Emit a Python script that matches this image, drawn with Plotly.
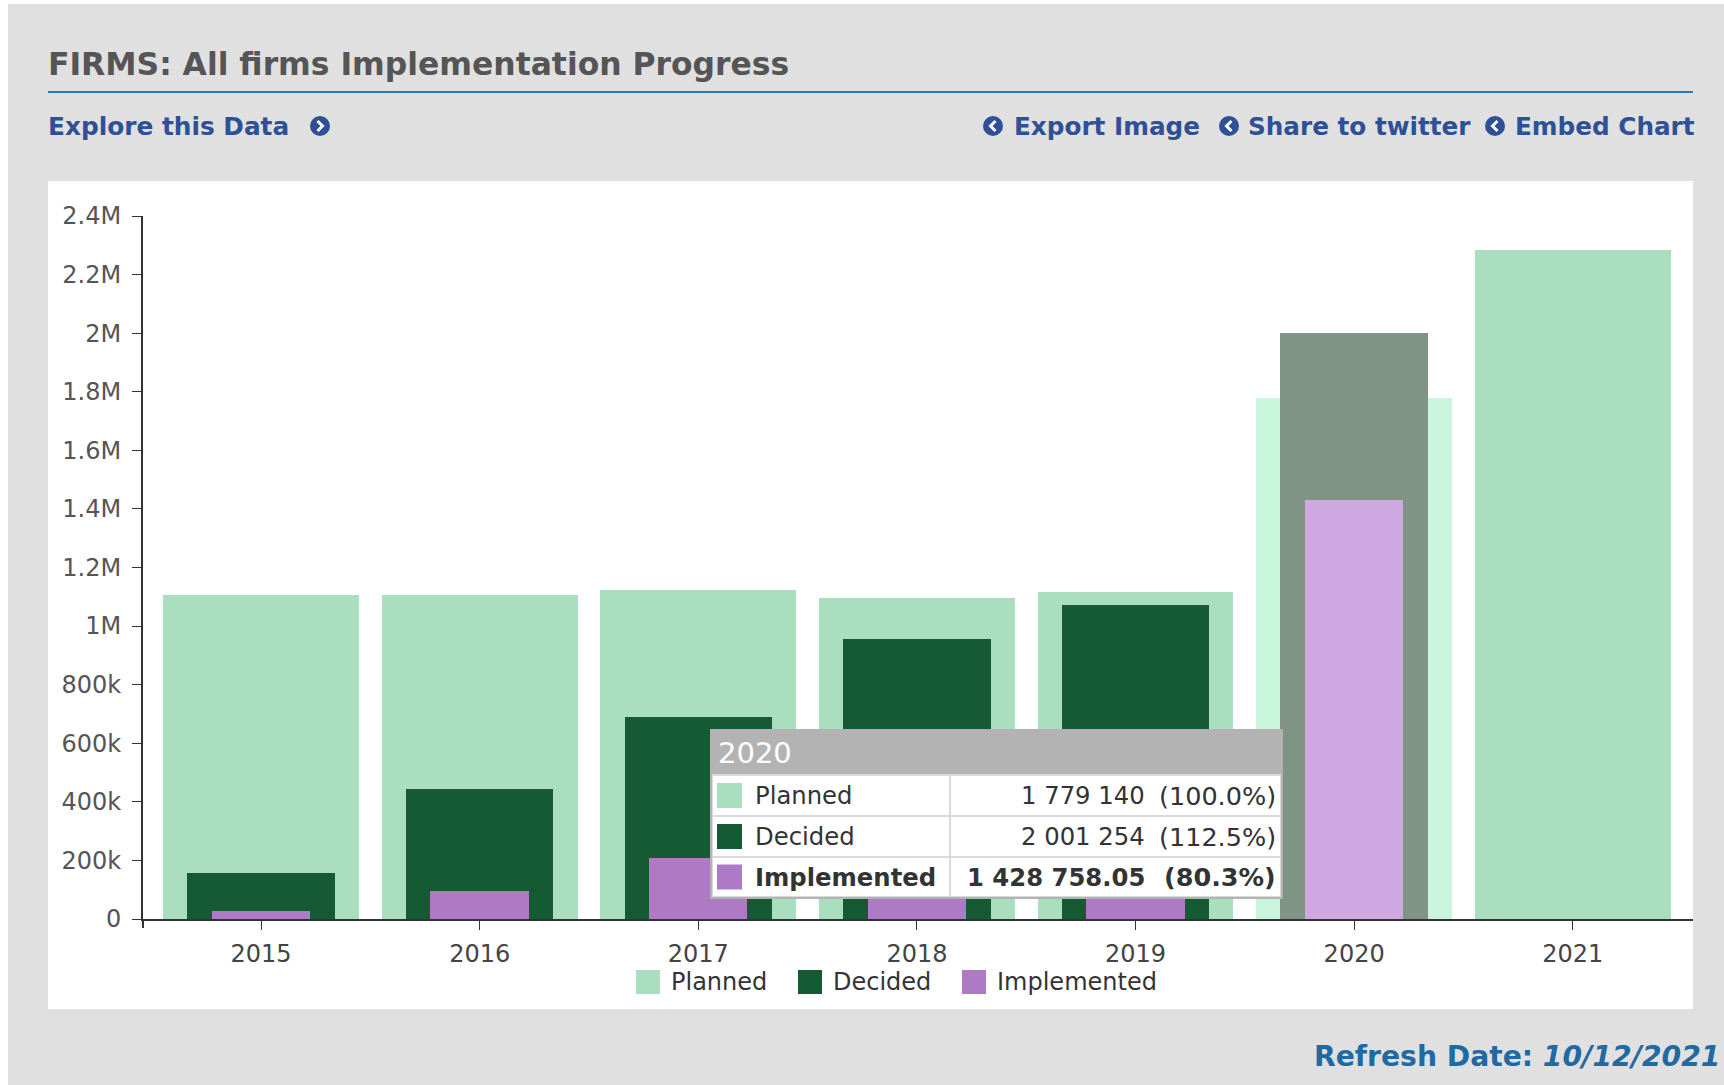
import plotly.graph_objects as go

# data
years = ["2015", "2016", "2017", "2018", "2019", "2020", "2021"]
planned = [1107000, 1106000, 1123000, 1095000, 1117000, 1779140, 2284000]
decided = [157000, 445000, 688000, 956000, 1072000, 2001254, None]
implemented = [26000, 94000, 207000, 400000, 560000, 1428758.05, None]

series_names = ["Planned", "Decided", "Implemented"]
hover_year = "2020"

# colours
col_bg = "#e0e0e0"
col_planned = "#a9dfbf"
col_decided = "#165a34"
col_impl = "#ae7ac6"
hi_planned = "#c9f5dd"
hi_decided = "#7f9484"
hi_impl = "#cfa8e2"
col_link = "#2e5096"
FONT = "DejaVu Sans"

W, H = 1724, 1085
PL, PR, PT, PB = 143, 1693, 216, 919  # plot area in pixels


def px(x):
    return (x - PL) / (PR - PL)


def py(y):
    return (PB - y) / (PB - PT)


def rect(x0, y0, x1, y1, fill, layer="above"):
    return dict(type="rect", xref="paper", yref="paper",
                x0=px(x0), x1=px(x1), y0=py(y1), y1=py(y0),
                fillcolor=fill, line=dict(width=0), layer=layer)


def text(x, y, s, size=24, color="#333333", anchor="left", bold=False):
    if bold:
        s = "<b>" + s + "</b>"
    return dict(xref="paper", yref="paper", x=px(x), y=py(y), text=s,
                showarrow=False, xanchor=anchor, yanchor="middle",
                font=dict(family=FONT, size=size, color=color))


def icon(cx, cy, direction):
    r = 10
    circ = dict(type="circle", xref="paper", yref="paper",
                x0=px(cx - r), x1=px(cx + r), y0=py(cy + r), y1=py(cy - r),
                fillcolor=col_link, line=dict(width=0), layer="above")
    d = 1 if direction == "right" else -1
    p = "M{},{} L{},{} L{},{}".format(px(cx - 2.5 * d), py(cy - 5), px(cx + 2.5 * d), py(cy),
                                       px(cx - 2.5 * d), py(cy + 5))
    chev = dict(type="path", xref="paper", yref="paper", path=p,
                line=dict(color="white", width=3), layer="above")
    return [circ, chev]


def colors(base, hi):
    return [hi if y == hover_year else base for y in years]


fig = go.Figure()
fig.add_trace(go.Bar(x=years, y=planned, name="Planned", width=0.895,
                     marker=dict(color=colors(col_planned, hi_planned), line=dict(width=0))))
fig.add_trace(go.Bar(x=years, y=decided, name="Decided", width=0.675,
                     marker=dict(color=colors(col_decided, hi_decided), line=dict(width=0))))
fig.add_trace(go.Bar(x=years, y=implemented, name="Implemented", width=0.45,
                     marker=dict(color=colors(col_impl, hi_impl), line=dict(width=0))))

shapes = []
ann = []

# page frame
shapes.append(rect(0, 0, 8, H, "white", layer="below"))
shapes.append(rect(0, 0, W, 4, "white", layer="below"))
shapes.append(rect(48, 181, 1693, 1009, "white", layer="below"))
shapes.append(dict(type="line", xref="paper", yref="paper", x0=px(48), x1=px(1693),
                   y0=py(92), y1=py(92), line=dict(color="#2b7bb9", width=2)))
# outer tick at start of x axis
shapes.append(dict(type="line", xref="paper", yref="paper", x0=px(143), x1=px(143),
                   y0=py(919), y1=py(928), line=dict(color="#333333", width=2)))

# header texts
ann.append(text(46, 64, "FIRMS: All firms Implementation Progress", size=31.4,
                color="#555555", bold=True))
ann.append(text(46, 127, "Explore this Data", size=24.8, color=col_link, bold=True))
shapes += icon(320, 126, "right")
for cx, tx, s in [(993, 1012, "Export Image"), (1229, 1246, "Share to twitter"),
                  (1495, 1513, "Embed Chart")]:
    shapes += icon(cx, 126, "left")
    ann.append(text(tx, 127, s, size=24.7, color=col_link, bold=True))
ann.append(text(1722, 1056, "Refresh Date: <i>10/12/2021</i>", size=28.2,
                color="#1f69a5", anchor="right", bold=True))

# legend drawn below the axis
for sx, tx, nm, c in [(636, 669, "Planned", col_planned), (798, 831, "Decided", col_decided),
                      (962, 995, "Implemented", col_impl)]:
    shapes.append(rect(sx, 970, sx + 24, 994, c))
    ann.append(text(tx, 982, nm, size=24, color="#333333"))

# hover tooltip for 2020
i = years.index(hover_year)
vals = [planned[i], decided[i], implemented[i]]
swatch = [col_planned, col_decided, col_impl]
shapes.append(rect(710, 729, 1283, 899, "#b3b3b3"))
shapes.append(rect(712, 774, 1281, 897, "#dadada"))
rows = [(776, 815), (817, 856), (858, 896)]
for k, (r0, r1) in enumerate(rows):
    shapes.append(rect(713, r0, 949, r1, "white"))
    shapes.append(rect(951, r0, 1280, r1, "white"))
    cy = (r0 + r1) / 2
    shapes.append(rect(717, cy - 12.5, 742, cy + 12.5, swatch[k]))
    v = vals[k]
    num = f"{v:,.2f}" if v != int(v) else f"{v:,.0f}"
    num = num.replace(",", " ")
    pct = f"({v / planned[i] * 100:.1f}%)"
    bold = k == 2
    ann.append(text(753, cy, series_names[k], size=24.3, color="#333333", bold=bold))
    ann.append(text(1147, cy, num, size=24.3, color="#333333", anchor="right", bold=bold))
    ann.append(text(1278, cy, pct, size=25.5, color="#333333", anchor="right", bold=bold))
ann.append(text(716, 753, hover_year, size=29, color="white"))

fig.update_layout(
    width=W, height=H,
    margin=dict(l=PL, r=W - PR, t=PT, b=H - PB, pad=0),
    paper_bgcolor=col_bg, plot_bgcolor="white",
    barmode="overlay", bargap=0,
    showlegend=False,
    font=dict(family=FONT, size=24, color="#555555"),
    shapes=shapes, annotations=ann,
    xaxis=dict(type="category", range=[-0.54, 6.55], showline=True, linecolor="#333333",
               linewidth=2, ticks="outside", ticklen=9, tickcolor="#333333", tickwidth=1,
               showgrid=False, zeroline=False, tickfont=dict(size=24, color="#444444"),
               ticklabelstandoff=3),
    yaxis=dict(range=[0, 2400000], dtick=200000, tickformat="~s", showline=True,
               linecolor="#333333", linewidth=2, ticks="outside", ticklen=9,
               tickcolor="#333333", tickwidth=1, showgrid=False, zeroline=False,
               tickfont=dict(size=24, color="#555555"), ticklabelstandoff=6),
)

fig.write_html("out.html", config={"displayModeBar": False},
               post_script="document.body.style.margin='0';")
